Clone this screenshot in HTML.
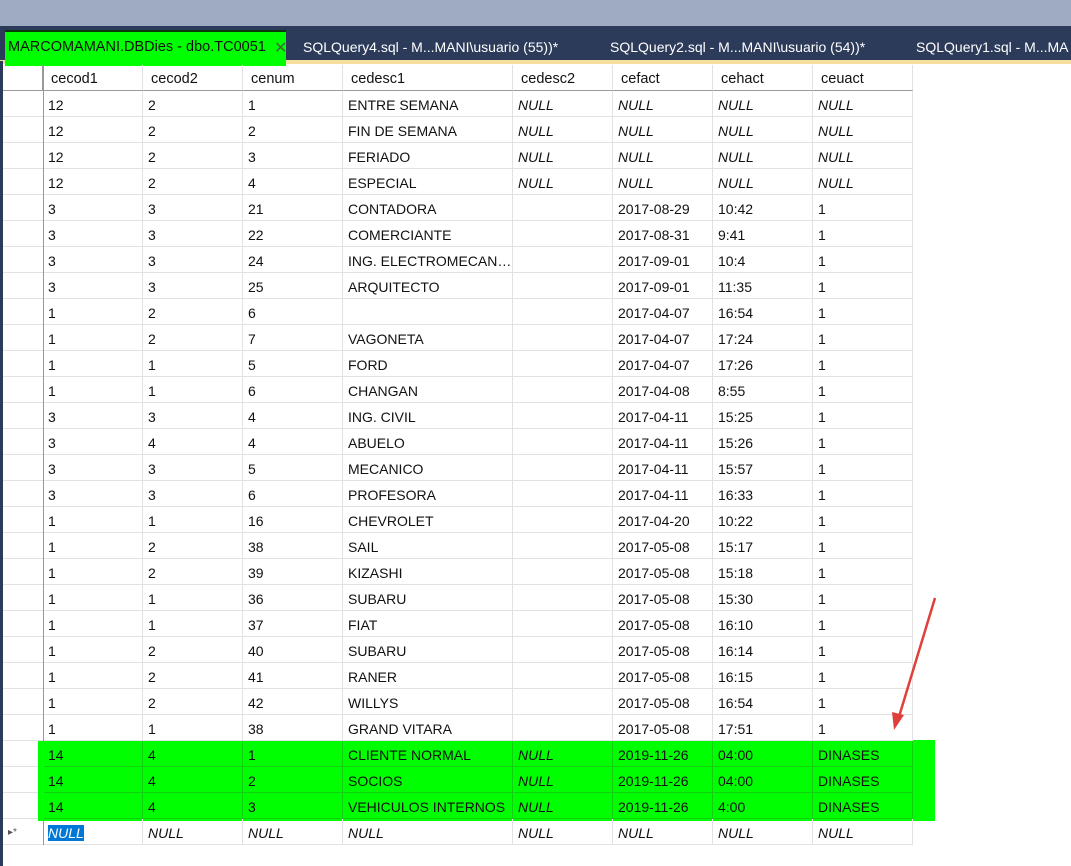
<!DOCTYPE html>
<html><head><meta charset="utf-8">
<style>
body{margin:0;width:1071px;height:866px;overflow:hidden;background:#fff;font-family:"Liberation Sans",sans-serif;position:relative}
.a{position:absolute}
.c{position:absolute;height:26px;line-height:28px;font-size:14px;color:#111;padding-left:5px;box-sizing:border-box;white-space:nowrap;overflow:hidden;text-overflow:ellipsis;border-right:1px solid #e2e2e2;border-bottom:1px solid #e2e2e2}
.i{font-style:italic}
.tab{position:absolute;top:38px;color:#fff;font-size:14px;white-space:nowrap;overflow:hidden}
</style></head><body>
<div class="a" style="left:0;top:0;width:1071px;height:26px;background:#9eabc2"></div>
<div class="a" style="left:0;top:26px;width:1071px;height:35px;background:#2c3b5a"></div>
<div class="a" style="left:0;top:60px;width:1071px;height:4px;background:#f5dd9e"></div>
<div class="a" style="left:0;top:61px;width:3px;height:805px;background:#2c3b5a"></div>
<div class="a" style="left:5px;top:30px;width:281px;height:36px;background:#00ff00;border-top:2px solid #0a3a0a;box-sizing:border-box"></div>
<div class="tab" style="left:8px;top:39px;color:#111;font-size:14.5px">MARCOMAMANI.DBDies - dbo.TC0051</div>
<div class="tab" style="left:274px;top:38px;color:#3a6a3a;font-size:16px">✕</div>
<div class="tab" style="left:303px;top:39px">SQLQuery4.sql - M...MANI\usuario (55))*</div>
<div class="tab" style="left:610px;top:39px">SQLQuery2.sql - M...MANI\usuario (54))*</div>
<div class="tab" style="left:916px;top:39px;width:155px">SQLQuery1.sql - M...MA</div>
<div id="grid"></div>
<svg class="a" style="left:0;top:0" width="1071" height="866">
<line x1="935" y1="598" x2="898" y2="720" stroke="#e0403a" stroke-width="2.5"/>
<polygon points="894,730 892,712 904,715" fill="#e0403a"/>
</svg>
<script>
const cols=["cecod1","cecod2","cenum","cedesc1","cedesc2","cefact","cehact","ceuact"];
const xs=[43,143,243,343,513,613,713,813,913];
const N="NULL";
const rows=[
["12","2","1","ENTRE SEMANA",N,N,N,N],["12","2","2","FIN DE SEMANA",N,N,N,N],["12","2","3","FERIADO",N,N,N,N],["12","2","4","ESPECIAL",N,N,N,N],
["3","3","21","CONTADORA","","2017-08-29","10:42","1"],["3","3","22","COMERCIANTE","","2017-08-31","9:41","1"],["3","3","24","ING. ELECTROMECANI...","","2017-09-01","10:4","1"],["3","3","25","ARQUITECTO","","2017-09-01","11:35","1"],
["1","2","6","","","2017-04-07","16:54","1"],["1","2","7","VAGONETA","","2017-04-07","17:24","1"],["1","1","5","FORD","","2017-04-07","17:26","1"],["1","1","6","CHANGAN","","2017-04-08","8:55","1"],
["3","3","4","ING. CIVIL","","2017-04-11","15:25","1"],["3","4","4","ABUELO","","2017-04-11","15:26","1"],["3","3","5","MECANICO","","2017-04-11","15:57","1"],["3","3","6","PROFESORA","","2017-04-11","16:33","1"],
["1","1","16","CHEVROLET","","2017-04-20","10:22","1"],["1","2","38","SAIL","","2017-05-08","15:17","1"],["1","2","39","KIZASHI","","2017-05-08","15:18","1"],["1","1","36","SUBARU","","2017-05-08","15:30","1"],["1","1","37","FIAT","","2017-05-08","16:10","1"],["1","2","40","SUBARU","","2017-05-08","16:14","1"],["1","2","41","RANER","","2017-05-08","16:15","1"],["1","2","42","WILLYS","","2017-05-08","16:54","1"],["1","1","38","GRAND VITARA","","2017-05-08","17:51","1"],
["14","4","1","CLIENTE NORMAL",N,"2019-11-26","04:00","DINASES"],["14","4","2","SOCIOS",N,"2019-11-26","04:00","DINASES"],["14","4","3","VEHICULOS INTERNOS",N,"2019-11-26","4:00","DINASES"],
[N,N,N,N,N,N,N,N]];
const g=document.getElementById('grid');
function cell(x,y,w,t,cls){const d=document.createElement('div');d.className='c '+(cls||'');d.style.left=x+'px';d.style.top=y+'px';d.style.width=w+'px';d.textContent=t;g.appendChild(d);return d;}
const hl=document.createElement('div');hl.className='a';hl.style.cssText='left:38px;top:740px;width:897px;height:81px;background:#00ff00';


g.appendChild(hl);
const rh=cell(3,65,40,'');rh.style.borderRight='1px solid #999';rh.style.borderBottom='1px solid #999';


cols.forEach((c,j)=>{const d=cell(xs[j],65,xs[j+1]-xs[j],c);d.style.borderBottom='1px solid #999';d.style.paddingLeft='8px';d.style.fontSize='14.5px';

});
rows.forEach((r,i)=>{const y=91+i*26;
const h=cell(3,y,40,i==rows.length-1?'▸*':'');h.style.borderRight='none';h.style.fontSize='10px';h.style.color='#555';
if(i>=25&&i<28){h.style.width='35px';}


r.forEach((v,j)=>{const d=cell(xs[j],y,xs[j+1]-xs[j],v,v==N?'i':'');
if(i>=25&&i<28){d.style.borderColor='#10d010';}
if(i==rows.length-1&&j==0){d.innerHTML='<span style="background:#0078d7;color:#fff">NULL</span>';}

});});
const lb=document.createElement('div');lb.className='a';lb.style.cssText='left:43px;top:65px;width:1px;height:780px;background:#999';


g.appendChild(lb);
</script>
</body></html>
